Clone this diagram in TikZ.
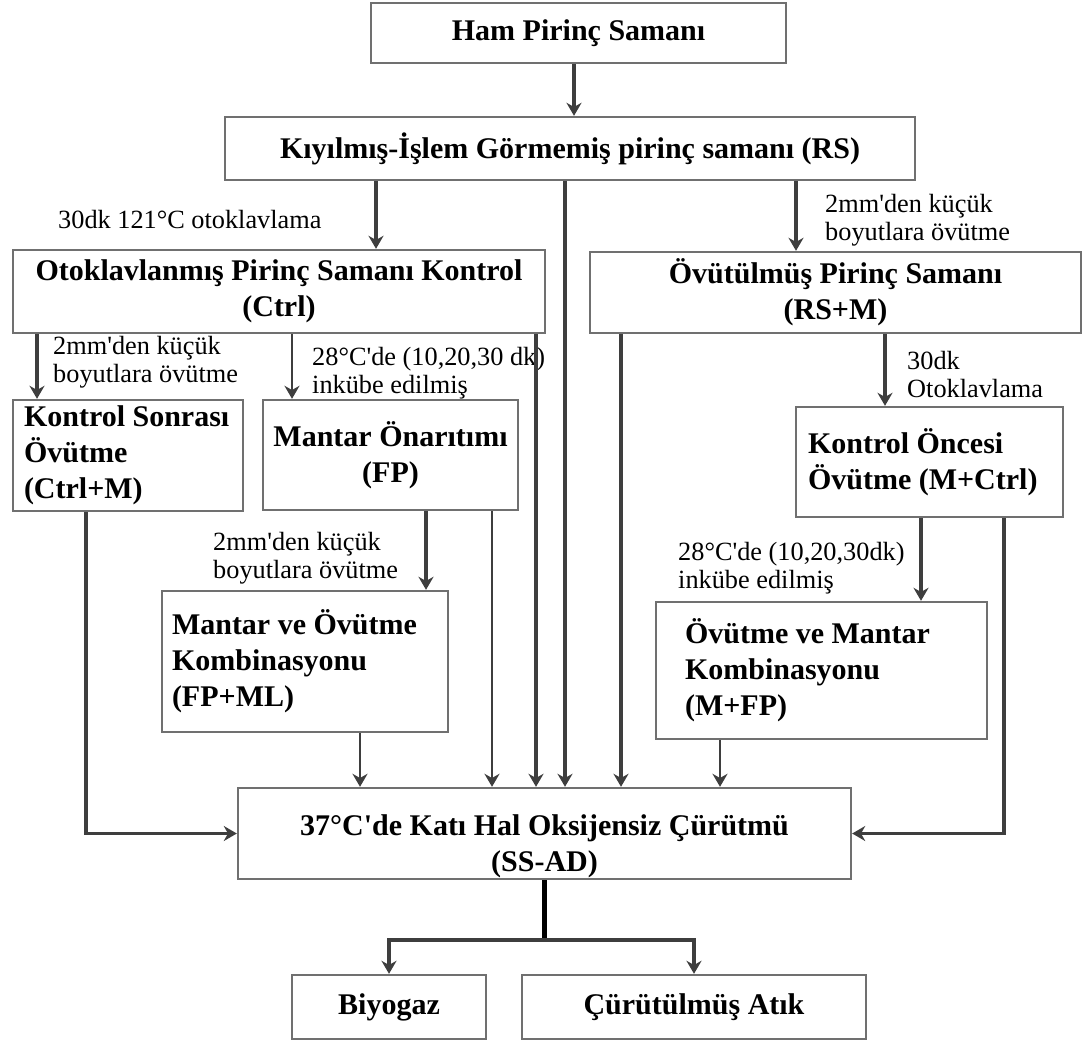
\documentclass[tikz,border=0pt]{standalone}
\usepackage{fontspec}
\setmainfont{Liberation Serif}
\usepackage{xcolor}
\usetikzlibrary{arrows.meta, positioning, calc}
\definecolor{boxgray}{RGB}{112,112,112}
\definecolor{arrgray}{RGB}{62,62,62}
\newcommand{\ap}{\textquotesingle}

\begin{document}
\begin{tikzpicture}[x=1pt, y=-1pt,
    box/.style={rectangle, draw=boxgray, line width=2.4pt, fill=white, inner sep=0pt,
                align=center, font=\fontsize{30}{36}\selectfont\bfseries},
    lbox/.style={box, align=flush left},
    note/.style={inner sep=0pt, anchor=base west, align=left, font=\fontsize{26.3}{28}\selectfont},
    arr/.style={-{Stealth[length=13pt, width=15pt]}, line width=3.6pt, arrgray},
    arrthin/.style={arr, line width=2.6pt}
]
\path[use as bounding box, fill=white] (0,0) rectangle (1083,1043);

% boxes
\node[box, minimum width=415pt, minimum height=60pt] (ham) at (578.5,33) {Ham Pirinç Samanı};
\node[box, minimum width=690pt, minimum height=63pt] (kiy) at (570,148.5) {Kıyılmış-İşlem Görmemiş pirinç samanı (RS)};
\node[box, minimum width=532pt, minimum height=83pt] (ctrl) at (279,291.5) {Otoklavlanmış Pirinç Samanı Kontrol\\(Ctrl)};
\node[box, minimum width=491pt, minimum height=81pt] (rsm) at (835.5,292.5) {Övütülmüş Pirinç Samanı\\(RS+M)};
\node[lbox, minimum width=230pt, minimum height=111pt, text width=208pt] (ctrlm) at (128,455.5) {Kontrol~Sonrası\\Övütme\\(Ctrl+M)};
\node[box, minimum width=255pt, minimum height=110pt] (fp) at (390.5,455) {Mantar Önarıtımı\\(FP)};
\node[lbox, minimum width=286pt, minimum height=141pt, text width=266pt] (fpml) at (305,661.5) {Mantar~ve~Övütme\\Kombinasyonu\\(FP+ML)};
\node[lbox, minimum width=267pt, minimum height=110pt, text width=243pt] (mctrl) at (929.5,462) {Kontrol~Öncesi\\Övütme~(M+Ctrl)};
\node[lbox, minimum width=331pt, minimum height=137pt, text width=273pt] (mfp) at (821.5,670.5) {Övütme~ve~Mantar\\Kombinasyonu\\(M+FP)};
\node[box, minimum width=613pt, minimum height=91pt] (ssad) at (544.5,833.5) {\rule{0pt}{47pt}37°C\ap de Katı Hal Oksijensiz Çürütmü\\(SS-AD)};
\node[box, minimum width=194pt, minimum height=64pt] (biyo) at (389,1007) {Biyogaz};
\node[box, minimum width=344pt, minimum height=64pt] (atik) at (694,1007) {Çürütülmüş Atık};

% notes beside the arrows (placed by their last line)
\node[note] (n1) at (58,228) {30dk 121°C otoklavlama};
\node[note] (n2) at (825,240) {2mm\ap den küçük\\boyutlara övütme};
\node[note] (n3) at (53,382) {2mm\ap den küçük\\boyutlara övütme};
\node[note] (n4) at (312,393) {28°C\ap de (10,20,30 dk)\\inkübe edilmiş};
\node[note] (n5) at (907,397) {30dk\\Otoklavlama};
\node[note] (n6) at (213,578) {2mm\ap den küçük\\boyutlara övütme};
\node[note] (n7) at (678,588) {28°C\ap de (10,20,30dk)\\inkübe edilmiş};

% box to box
\foreach \a/\b/\x in {ham/kiy/574, kiy/ctrl/376, kiy/rsm/796, ctrl/ctrlm/37, rsm/mctrl/885, fp/fpml/426, mctrl/mfp/921}
    \draw[arr] (\a.south -| \x,0) -- (\b.north -| \x,0);
\draw[arrthin] (ctrl.south -| 292,0) -- (fp.north -| 292,0);

% into SS-AD
\foreach \a/\x in {kiy/565, ctrl/536, rsm/621}
    \draw[arr] (\a.south -| \x,0) -- (ssad.north -| \x,0);
\foreach \a/\x in {fpml/360, fp/492, mfp/720}
    \draw[arrthin] (\a.south -| \x,0) -- (ssad.north -| \x,0);
\draw[arr] (ctrlm.south -| 86,0) |- (ssad.west);
\draw[arr] (mctrl.south -| 1004,0) |- (ssad.east);

% outputs
\coordinate (split) at ($(ssad.south -| 544,0) + (0,60)$);
\draw[line width=5pt, black] (ssad.south -| 544,0) -- (split);
\draw[arr] (split) -| (biyo.north);
\draw[arr] (split) -| (atik.north);
\end{tikzpicture}
\end{document}
